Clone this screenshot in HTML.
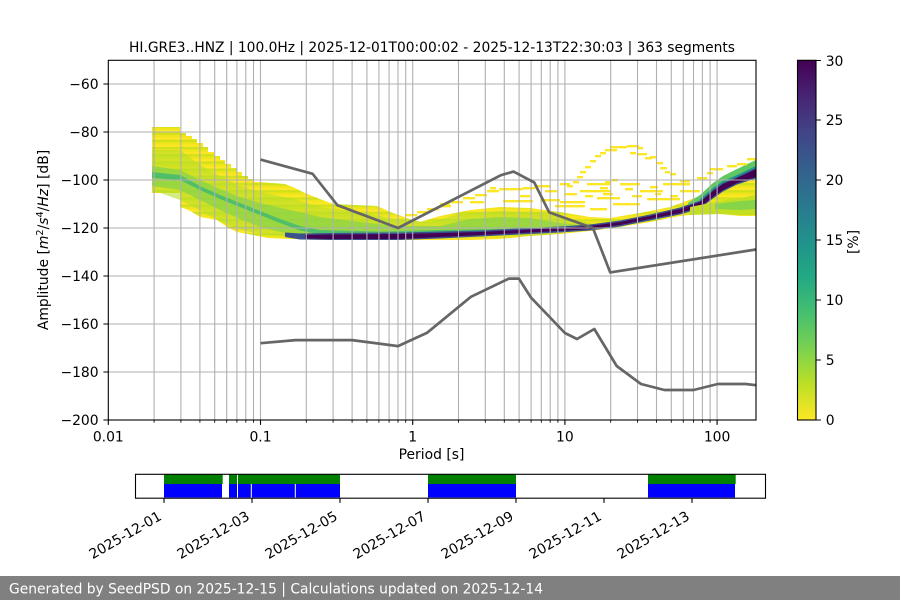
<!DOCTYPE html>
<html><head><meta charset="utf-8"><style>
html,body{margin:0;padding:0;background:#fff;}
svg{display:block;}
text{font-family:"DejaVu Sans","Liberation Sans",sans-serif;}
</style></head><body>
<svg width="900" height="600" viewBox="0 0 900 600" xmlns="http://www.w3.org/2000/svg">
<defs>
<pattern id="st" patternUnits="userSpaceOnUse" x="0" y="0.5" width="12" height="7.2">
<rect x="0" y="0" width="12" height="2.4" fill="#fde725"/>
<rect x="0" y="2.4" width="12" height="2.4" fill="#d0e11c"/>
<rect x="0" y="4.8" width="12" height="2.4" fill="#eee51b"/>
</pattern>
<linearGradient id="cb" x1="0" y1="0" x2="0" y2="1">
<stop offset="0" stop-color="#440154"/><stop offset="0.1" stop-color="#482475"/>
<stop offset="0.2" stop-color="#414487"/><stop offset="0.3" stop-color="#355f8d"/>
<stop offset="0.4" stop-color="#2a788e"/><stop offset="0.5" stop-color="#21918c"/>
<stop offset="0.6" stop-color="#22a884"/><stop offset="0.7" stop-color="#44bf70"/>
<stop offset="0.8" stop-color="#7ad151"/><stop offset="0.9" stop-color="#bddf26"/>
<stop offset="1" stop-color="#fde725"/>
</linearGradient>
<clipPath id="ax"><rect x="108.3" y="60.3" width="647.7" height="359.7"/></clipPath>
</defs>
<rect width="900" height="600" fill="#fff"/>

<!-- heatmap -->
<g clip-path="url(#ax)">
<path fill="url(#st)" d="M152,127 L180,127 L180,133 L186,133 L186,136 L192,136 L192,139 L197,139 L197,143 L203,143 L203,147 L208,147 L208,152 L214,152 L214,156 L220,156 L220,160 L225,160 L225,164 L231,164 L231,168 L237,168 L237,172 L242,172 L242,176 L248,176 L248,179 L254,179 L254,182 L260,182 L285,184 L295,188 L305,193 L320,199 L333,204 L377,206 L393,213 L410,219 L420,222 L440,216 L470,210 L500,207 L530,208 L560,212 L590,217 L610,218 L640,213 L670,207 L700,196 L715,185 L730,174 L745,165 L756,160 L756,216 L740,216 L720,214 L700,214 L680,216 L650,222 L620,227 L590,231 L560,234 L530,236 L500,239 L470,240 L440,240 L400,240 L330,240 L290,239 L268,238 L253,235 L237,232 L227,227 L217,220 L200,217 L192,212 L186,209 L180,207 L180,193 L152,193 Z"/>
<path fill="#b8de29" opacity="0.6" d="M152,150 L180,150 L200,165 L220,176 L240,186 L260,192 L290,198 L320,207 L360,212 L400,220 L430,222 L460,214 L500,211 L540,213 L575,220 L595,224 L595,229 L560,232 L520,234 L480,236 L440,238 L400,238 L330,238 L300,237 L270,235 L250,232 L230,226 L210,216 L190,205 L180,200 L152,190 Z"/>
<path fill="#7ad151" opacity="0.6" d="M152,166 L180,170 L200,180 L220,189 L240,197 L260,203 L290,210 L320,217 L360,222 L400,226 L440,226 L470,219 L500,217 L530,218 L560,223 L590,226 L590,229 L540,231 L480,233 L420,234 L360,235 L310,236 L280,232 L260,227 L240,219 L220,210 L200,200 L180,190 L152,186 Z"/>
<path fill="#2fb47c" opacity="0.7" d="M152,172 L180,175 L200,186 L220,195 L240,203 L260,211 L280,219 L300,226 L320,230 L380,231.5 L440,230 L500,229 L560,227 L590,226 L590,228 L500,231 L440,232 L380,233.5 L320,234.5 L300,230.5 L280,223 L260,215 L240,207 L220,199 L200,190 L180,180 L152,178 Z"/>
<path fill="#3b528b" d="M285,232.5 L300,233.5 L330,233 L400,232.5 L440,231.5 L480,230.5 L520,228.5 L560,226.5 L590,224.5 L620,220.5 L650,214.5 L680,207.5 L700,200.5 L713,189.5 L723,182.5 L737,176.5 L756,167.5 L756,178.5 L737,184.5 L723,191.5 L713,198.5 L700,208.5 L680,214.5 L650,220.5 L620,226.5 L590,230.5 L560,232.5 L520,234.5 L480,236.5 L440,238.5 L400,240 L330,240 L300,239.5 L285,237 Z"/>
<path fill="#440154" d="M305,235 L330,234.5 L400,234 L440,233 L480,232 L520,230 L560,228 L590,226 L620,222 L650,216 L680,209 L700,202 L713,191 L723,184 L737,178 L756,169 L756,177 L737,183 L723,190 L713,197 L700,207 L680,213 L650,219 L620,225 L590,229 L560,231 L520,233 L480,235 L440,237 L400,239 L330,239 L305,238.5 Z"/>
<path fill="#5ec962" d="M688,203 L700,195 L713,183 L723,176 L737,169 L756,160 L756,167.5 L737,176.5 L723,182.5 L713,189.5 L700,200.5 L688,205 Z"/>
<path fill="#21918c" d="M700,199 L713,188 L723,181 L737,175 L756,166 L756,168 L737,177 L723,183 L713,190 L700,201 Z"/>
<path fill="#c2df23" d="M690,207 L720,201 L740,198 L756,195 L756,215 L740,215 L720,214 L690,215 Z"/>
<path fill="#86d549" d="M715,204 L740,201 L756,200 L756,209 L740,210 L715,209 Z"/>
<path fill="#fde725" d="M405,214h12v2.4h-12z M417,211h10v2.4h-10z M427,208h12v2.4h-12z M439,205h12v2.4h-12z M451,201h12v2.4h-12z M463,197h12v2.4h-12z M475,194h12v2.4h-12z M487,190h12v2.4h-12z M499,188h24v2.4h-24z M523,187h12v2.4h-12z
M440,203h10v2.4h-10z M470,201h14v2.4h-14z M503,200h30v2.4h-30z M540,199h20v2.4h-20z M560,201h25v2.4h-25z M555,205h30v2.4h-30z M590,208h17v2.4h-17z M580,217h13v2.4h-13z
M567,185h6v2.4h-6z M573,181h6v2.4h-6z M577,176h6v2.4h-6z M580,171h6v2.4h-6z M585,166h6v2.4h-6z M590,160h6v2.4h-6z M595,155h6v2.4h-6z M600,152h6v2.4h-6z M605,149h12v2.4h-12z M610,146h17v2.4h-17z M627,145h12v2.4h-12z M637,147h6v2.4h-6z M630,152h6v2.4h-6z M638,153h9v2.4h-9z M645,157h7v2.4h-7z M650,156h6v2.4h-6z M657,162h6v2.4h-6z M660,167h7v2.4h-7z M665,171h5v2.4h-5z M670,173h6v2.4h-6z M680,180h10v2.4h-10z M697,177h10v2.4h-10z M707,172h6v2.4h-6z M710,168h13v2.4h-13z M727,165h10v2.4h-10z M737,163h10v2.4h-10z M747,158h9v2.4h-9z
M587,183h23v2.4h-23z M580,190h30v2.4h-30z M597,197h23v2.4h-23z M613,203h27v2.4h-27z M620,183h20v2.4h-20z M640,190h23v2.4h-23z M647,198h33v2.4h-33z M663,183h27v2.4h-27z M680,190h20v2.4h-20z M603,193h10v2.4h-10z M625,188h8v2.4h-8z M632,195h10v2.4h-10z M655,193h6v2.4h-6z M612,179h6v2.4h-6z M605,181h6v2.4h-6z M535,185h15v2.4h-15z M545,190h12v2.4h-12z M560,183h10v2.4h-10z M565,193h12v2.4h-12z M520,195h10v2.4h-10z M490,187h6v2.4h-6z M600,187h8v2.4h-8z M585,195h8v2.4h-8z M650,186h8v2.4h-8z M670,195h8v2.4h-8z"/>
</g>

<!-- grid -->
<g stroke="#b0b0b0" stroke-width="1.1" fill="none">
<path d="M108.3,84H756 M108.3,132H756 M108.3,180H756 M108.3,228H756 M108.3,276H756 M108.3,324H756 M108.3,372H756"/>
<path d="M154.1,60V420 M180.9,60V420 M199.9,60V420 M214.7,60V420 M226.7,60V420 M236.9,60V420 M245.8,60V420 M253.5,60V420
M260.5,60V420 M306.3,60V420 M333.1,60V420 M352.1,60V420 M366.9,60V420 M378.9,60V420 M389.1,60V420 M398,60V420 M405.7,60V420
M412.7,60V420 M458.5,60V420 M485.3,60V420 M504.3,60V420 M519.1,60V420 M531.1,60V420 M541.3,60V420 M550.2,60V420 M557.9,60V420
M564.9,60V420 M610.7,60V420 M637.5,60V420 M656.5,60V420 M671.3,60V420 M683.3,60V420 M693.5,60V420 M702.4,60V420 M710.1,60V420 M717.1,60V420"/>
</g>

<!-- noise models -->
<g clip-path="url(#ax)" fill="none" stroke="#666666" stroke-width="2.7" stroke-linejoin="round">
<polyline points="260.5,159.6 312.6,173.8 337.4,205.2 398.0,228 500.9,175.2 513.5,171.6 534.2,182.4 549.2,212.4 592.9,228 610.2,272.4 756,249.5"/>
<polyline points="260.5,343.2 295.6,340.1 352.1,340.1 398.0,346.1 426.9,332.9 470.9,296.8 508.9,278.6 518.9,278.6 531.0,297.6 564.9,333 577.0,339 594.3,329 616.7,366 641.0,384 664.4,390 693.6,390 717.8,384 745.7,384 756,385.2"/>
</g>

<!-- axes frame -->
<rect x="108.3" y="60.3" width="647.7" height="359.7" fill="none" stroke="#000" stroke-width="1.1"/>

<!-- ticks -->
<g stroke="#000" stroke-width="1.1">
<path d="M103.4,84H108.3 M103.4,132H108.3 M103.4,180H108.3 M103.4,228H108.3 M103.4,276H108.3 M103.4,324H108.3 M103.4,372H108.3 M103.4,420H108.3"/>
<path d="M108.3,420V424.9 M260.5,420V424.9 M412.7,420V424.9 M564.9,420V424.9 M717.1,420V424.9"/>
</g>
<g stroke="#000" stroke-width="0.85">
<path d="M154.1,420V422.8 M180.9,420V422.8 M199.9,420V422.8 M214.7,420V422.8 M226.7,420V422.8 M236.9,420V422.8 M245.8,420V422.8 M253.5,420V422.8
M306.3,420V422.8 M333.1,420V422.8 M352.1,420V422.8 M366.9,420V422.8 M378.9,420V422.8 M389.1,420V422.8 M398,420V422.8 M405.7,420V422.8
M458.5,420V422.8 M485.3,420V422.8 M504.3,420V422.8 M519.1,420V422.8 M531.1,420V422.8 M541.3,420V422.8 M550.2,420V422.8 M557.9,420V422.8
M610.7,420V422.8 M637.5,420V422.8 M656.5,420V422.8 M671.3,420V422.8 M683.3,420V422.8 M693.5,420V422.8 M702.4,420V422.8 M710.1,420V422.8"/>
</g>

<!-- tick labels -->
<g font-size="13.9" fill="#000" text-anchor="end">
<text x="98.6" y="89">−60</text>
<text x="98.6" y="137">−80</text>
<text x="98.6" y="185">−100</text>
<text x="98.6" y="233">−120</text>
<text x="98.6" y="281">−140</text>
<text x="98.6" y="329">−160</text>
<text x="98.6" y="377">−180</text>
<text x="98.6" y="425">−200</text>
</g>
<g font-size="13.9" fill="#000" text-anchor="middle">
<text x="108.3" y="441.5">0.01</text>
<text x="260.5" y="441.5">0.1</text>
<text x="412.7" y="441.5">1</text>
<text x="564.9" y="441.5">10</text>
<text x="717.1" y="441.5">100</text>
<text x="431.5" y="459">Period [s]</text>
<text x="432" y="52" textLength="606" lengthAdjust="spacingAndGlyphs">HI.GRE3..HNZ | 100.0Hz | 2025-12-01T00:00:02 - 2025-12-13T22:30:03 | 363 segments</text>
</g>
<text transform="translate(48,240) rotate(-90)" font-size="13.9" text-anchor="middle" fill="#000">Amplitude [<tspan font-style="italic">m</tspan><tspan font-size="9.7" dy="-5">2</tspan><tspan dy="5">/</tspan><tspan font-style="italic">s</tspan><tspan font-size="9.7" dy="-5">4</tspan><tspan dy="5">/</tspan><tspan font-style="italic">Hz</tspan>] [dB]</text>

<!-- colorbar -->
<rect x="797.5" y="60.3" width="18.5" height="359.7" fill="url(#cb)" stroke="#000" stroke-width="1.1"/>
<g stroke="#000" stroke-width="1.1">
<path d="M816,60.5H820.9 M816,120H820.9 M816,180H820.9 M816,240H820.9 M816,300H820.9 M816,360H820.9 M816,420H820.9"/>
</g>
<g font-size="13.9" fill="#000">
<text x="825.7" y="66">30</text>
<text x="825.7" y="125">25</text>
<text x="825.7" y="185">20</text>
<text x="825.7" y="245">15</text>
<text x="825.7" y="305">10</text>
<text x="825.7" y="365">5</text>
<text x="825.7" y="425">0</text>
</g>
<text transform="translate(858,242) rotate(-90)" font-size="13.9" text-anchor="middle" fill="#000">[%]</text>

<!-- timeline -->
<g>
<rect x="164" y="474.5" width="58.7" height="9.5" fill="#008000"/>
<rect x="229" y="474.5" width="111" height="9.5" fill="#008000"/>
<rect x="428" y="474.5" width="88" height="9.5" fill="#008000"/>
<rect x="648" y="474.5" width="87.7" height="9.5" fill="#008000"/>
<rect x="164" y="484" width="58" height="13.5" fill="#0000ff"/>
<rect x="229" y="484" width="111" height="13.5" fill="#0000ff"/>
<rect x="428" y="484" width="88" height="13.5" fill="#0000ff"/>
<rect x="648" y="484" width="87" height="13.5" fill="#0000ff"/>
<path d="M237.5,474.5V497.5 M251.3,484V497.5 M295.3,484V497.5" stroke="#fff" stroke-width="1"/>
<rect x="135.5" y="474.3" width="630" height="23.9" fill="none" stroke="#000" stroke-width="1.1"/>
<path d="M164,498V502.9 M252,498V502.9 M340,498V502.9 M428,498V502.9 M516,498V502.9 M604,498V502.9 M692,498V502.9" stroke="#000" stroke-width="1.1"/>
</g>
<g font-size="13.9" fill="#000" text-anchor="end">
<text transform="translate(162.5,519) rotate(-30)">2025-12-01</text>
<text transform="translate(250.5,519) rotate(-30)">2025-12-03</text>
<text transform="translate(338.5,519) rotate(-30)">2025-12-05</text>
<text transform="translate(426.5,519) rotate(-30)">2025-12-07</text>
<text transform="translate(514.5,519) rotate(-30)">2025-12-09</text>
<text transform="translate(602.5,519) rotate(-30)">2025-12-11</text>
<text transform="translate(690.5,519) rotate(-30)">2025-12-13</text>
</g>

<!-- footer -->
<rect x="0" y="576" width="900" height="24" fill="#808080"/>
<text x="9" y="593.5" font-size="13.9" fill="#fff" textLength="534" lengthAdjust="spacingAndGlyphs">Generated by SeedPSD on 2025-12-15 | Calculations updated on 2025-12-14</text>
</svg>
</body></html>
